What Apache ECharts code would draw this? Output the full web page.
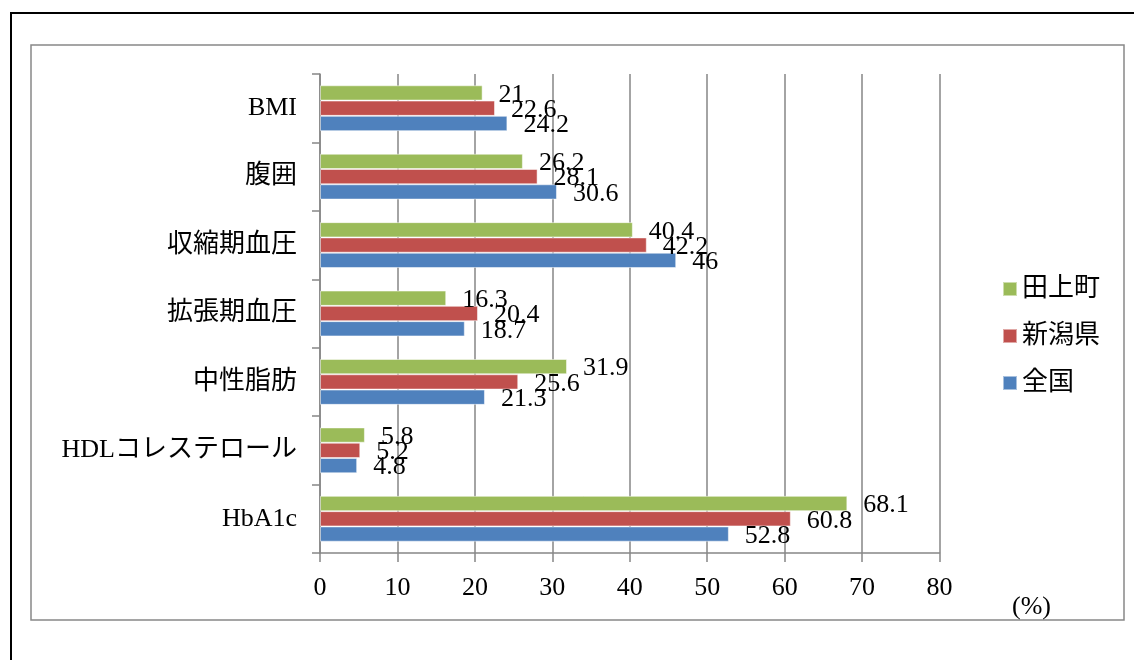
<!DOCTYPE html>
<html>
<head>
<meta charset="utf-8">
<script src="https://cdn.jsdelivr.net/npm/echarts@6/dist/echarts.min.js"></script>
<style>
  html, body { margin: 0; padding: 0; background: #fff; }
  #chart { width: 1134px; height: 660px; }
</style>
</head>
<body>
<div id="chart"></div>
<script>
// 健診項目ごとの有所見率 (%)
const categories = ['BMI', '腹囲', '収縮期血圧', '拡張期血圧', '中性脂肪', 'HDLコレステロール', 'HbA1c'];
const seriesNames = ['田上町', '新潟県', '全国'];
const tagamiValues  = [21, 26.2, 40.4, 16.3, 31.9, 5.8, 68.1];
const niigataValues = [22.6, 28.1, 42.2, 20.4, 25.6, 5.2, 60.8];
const zenkokuValues = [24.2, 30.6, 46, 18.7, 21.3, 4.8, 52.8];
const xTicks = [0, 10, 20, 30, 40, 50, 60, 70, 80];
const unitLabel = '(%)';

const colors = ['#9BBB59', '#C0504D', '#4F81BD'];
const FONT = '"Liberation Serif", "Noto Sans CJK JP", serif';
const FS = 26;

const chart = echarts.init(document.getElementById('chart'));

function makeSeries(name, values, color) {
  return {
    name: name,
    type: 'bar',
    data: values,
    barGap: '0%',
    barCategoryGap: '33%',
    itemStyle: { color: color, borderColor: 'rgba(255,255,255,0.5)', borderWidth: 1 },
    label: {
      show: true,
      position: 'right',
      distance: 16,
      offset: [0, 2],
      color: '#000',
      fontFamily: FONT,
      fontSize: FS
    },
    emphasis: { disabled: true }
  };
}

chart.setOption({
  animation: false,
  backgroundColor: '#fff',
  grid: { left: 320, top: 74, right: 194.5, bottom: 107, containLabel: false },
  legend: {
    orient: 'vertical',
    left: 997,
    top: 271,
    icon: 'rect',
    itemWidth: 14,
    itemHeight: 14,
    itemGap: 21,
    data: seriesNames,
    textStyle: { fontFamily: FONT, fontSize: FS, color: '#000' }
  },
  xAxis: {
    type: 'value',
    min: xTicks[0],
    max: xTicks[xTicks.length - 1],
    interval: xTicks[1] - xTicks[0],
    axisLine: { show: true, lineStyle: { color: '#868686', width: 1.5 } },
    axisTick: { show: true, length: 9, lineStyle: { color: '#868686', width: 1.5 } },
    splitLine: { show: true, lineStyle: { color: '#868686', width: 1.5 } },
    axisLabel: { margin: 22, color: '#000', fontFamily: FONT, fontSize: FS }
  },
  yAxis: {
    type: 'category',
    inverse: true,
    data: categories,
    axisLine: { show: true, lineStyle: { color: '#868686', width: 1.5 } },
    axisTick: { show: true, length: 8, lineStyle: { color: '#868686', width: 1.5 } },
    axisLabel: { margin: 23, color: '#000', fontFamily: FONT, fontSize: FS }
  },
  series: [
    makeSeries(seriesNames[0], tagamiValues, colors[0]),
    makeSeries(seriesNames[1], niigataValues, colors[1]),
    makeSeries(seriesNames[2], zenkokuValues, colors[2])
  ],
  graphic: [
    {
      type: 'rect',
      shape: { x: 11, y: 13, width: 1200, height: 700 },
      style: { fill: 'none', stroke: '#000', lineWidth: 2 },
      silent: true
    },
    {
      type: 'rect',
      shape: { x: 31, y: 45, width: 1093, height: 575 },
      style: { fill: 'none', stroke: '#888', lineWidth: 1.5 },
      silent: true
    },
    {
      type: 'text',
      left: 1012,
      top: 594,
      style: { text: unitLabel, fontFamily: FONT, fontSize: FS, fill: '#000' },
      silent: true
    }
  ]
});
</script>
</body>
</html>
